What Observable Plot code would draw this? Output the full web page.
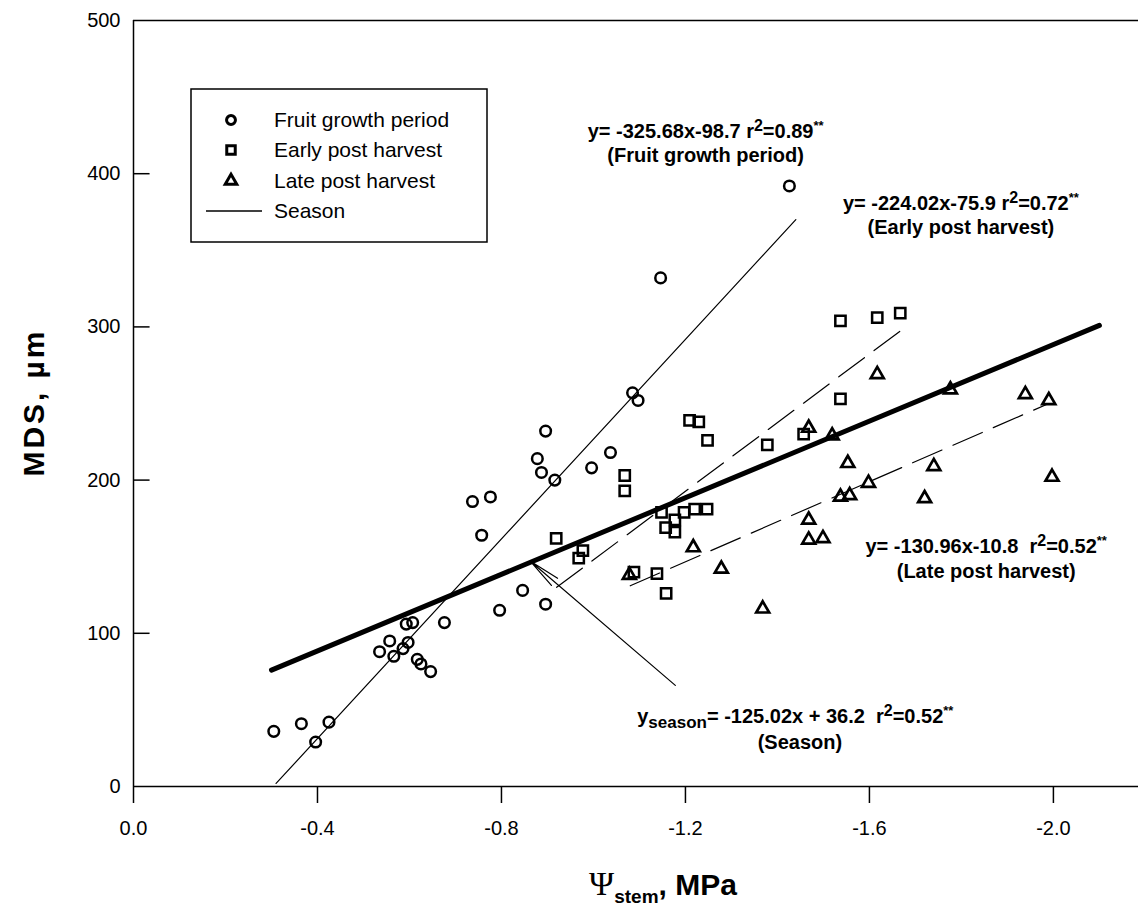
<!DOCTYPE html>
<html><head><meta charset="utf-8">
<script src="https://cdn.jsdelivr.net/npm/d3@7"></script>
<script src="https://cdn.jsdelivr.net/npm/@observablehq/plot@0.6"></script>
<style>
body{margin:0;background:#fff;}
#chart svg{display:block;}
</style></head><body><div id="chart"></div>
<script>
// ---- data ----
const fruitX = [-0.305,-0.365,-0.396,-0.425,-0.535,-0.557,-0.566,-0.586,-0.597,-0.593,-0.607,-0.617,-0.625,-0.646,-0.676,-0.737,-0.757,-0.776,-0.796,-0.846,-0.878,-0.887,-0.896,-0.896,-0.916,-0.996,-1.037,-1.085,-1.097,-1.146,-1.426];
const fruitY = [36,41,29,42,88,95,85,90,94,106,107,83,80,75,107,186,164,189,115,128,214,205,232,119,200,208,218,257,252,332,392];
const earlyX = [-0.919,-0.968,-0.977,-1.068,-1.068,-1.088,-1.138,-1.158,-1.148,-1.157,-1.177,-1.177,-1.197,-1.220,-1.247,-1.209,-1.229,-1.248,-1.378,-1.457,-1.537,-1.537,-1.617,-1.667];
const earlyY = [162,149,154,203,193,140,139,126,179,169,174,166,179,181,181,239,238,226,223,230,253,304,306,309];
const lateX = [-1.078,-1.217,-1.278,-1.368,-1.468,-1.468,-1.468,-1.499,-1.519,-1.537,-1.557,-1.553,-1.598,-1.617,-1.720,-1.740,-1.776,-1.939,-1.990,-1.997];
const lateY = [138,156,142,116,234,174,161,162,229,189,190,211,198,269,188,209,259,256,252,202];

// regression lines (end points)
const seasonLineX = [-0.30,-2.10], seasonLineY = [76,301];
const fruitLineX = [-0.31,-1.44], fruitLineY = [2,370];
const earlyLineX = [-0.92,-1.67], earlyLineY = [130,298];
const lateLineX = [-1.08,-1.99], lateLineY = [131,250];
// annotation pointer (tail -> tip)
const pointerX = [-1.178,-0.863], pointerY = [66,147];

const xTicks = [0,-0.4,-0.8,-1.2,-1.6,-2.0];
const yTicks = [0,100,200,300,400,500];

const seriesNames = ["Fruit growth period","Early post harvest","Late post harvest","Season"];

// equation labels: centre x, centre y, text segments
const eqLabels = [
  {x:-1.245, y:423, parts:[["y= -325.68x-98.7 r"],["2","sup"],["=0.89"],["**","star"]]},
  {x:-1.245, y:407, parts:[["(Fruit growth period)"]]},
  {x:-1.80, y:376, parts:[["y= -224.02x-75.9 r"],["2","sup"],["=0.72"],["**","star"]]},
  {x:-1.80, y:360, parts:[["(Early post harvest)"]]},
  {x:-1.855, y:152, parts:[["y= -130.96x-10.8  r"],["2","sup"],["=0.52"],["**","star"]]},
  {x:-1.855, y:136, parts:[["(Late post harvest)"]]},
  {x:-1.44, y:41, parts:[["y"],["season","sub"],["= -125.02x + 36.2  r"],["2","sup"],["=0.52"],["**","star"]]},
  {x:-1.45, y:24, parts:[["(Season)"]]}
];

const pts = (xs, ys) => xs.map((x,i)=>({x, y: ys[i]}));
const fruit = pts(fruitX, fruitY), early = pts(earlyX, earlyY), late = pts(lateX, lateY);

const FONT = "'Liberation Sans', Arial, Helvetica, sans-serif";

const plot = Plot.plot({
  width: 1139, height: 921,
  marginLeft: 133, marginRight: 1, marginTop: 20, marginBottom: 135,
  x: {domain: [0, -2.185]},
  y: {domain: [0, 500]},
  style: {fontFamily: FONT, fontSize: "20px", background: "white", color: "black"},
  marks: [
    Plot.axisX(xTicks, {tickSize: 17, tickPadding: 17, tickFormat: d => d.toFixed(1), label: null, strokeWidth: 1.5}),
    Plot.axisY(yTicks, {tickSize: 0, tickPadding: 13, label: null}),
    Plot.ruleY(yTicks.slice(1, -1), {x1: 0, x2: -0.036, strokeWidth: 1.5}),
    Plot.ruleY([0], {strokeWidth: 1.5}),
    Plot.ruleY([500], {strokeWidth: 1.5}),
    Plot.ruleX([0], {y1: 0, y2: 500, strokeWidth: 1.5}),
    Plot.line(pts(fruitLineX, fruitLineY), {x: "x", y: "y", strokeWidth: 1.2}),
    Plot.line(pts(earlyLineX, earlyLineY), {x: "x", y: "y", strokeWidth: 1.2, strokeDasharray: "32,12"}),
    Plot.line(pts(lateLineX, lateLineY), {x: "x", y: "y", strokeWidth: 1.2, strokeDasharray: "32,12"}),
    Plot.line(pts(seasonLineX, seasonLineY), {x: "x", y: "y", strokeWidth: 5}),
    Plot.arrow([{x1: pointerX[0], y1: pointerY[0], x2: pointerX[1], y2: pointerY[1]}],
      {x1: "x1", y1: "y1", x2: "x2", y2: "y2", headLength: 40, headAngle: 17, strokeWidth: 1.2}),
    Plot.dot(fruit, {x: "x", y: "y", symbol: "circle", r: 5.3, stroke: "black", strokeWidth: 2.5, fill: "none"}),
    Plot.dot(early, {x: "x", y: "y", symbol: "square", r: 5.8, stroke: "black", strokeWidth: 2.5, fill: "none"}),
    Plot.dot(late, {x: "x", y: "y", symbol: "triangle", r: 4.8, stroke: "black", strokeWidth: 2.7, fill: "none"})
  ]
});

const svg = d3.select(plot);
const sx = plot.scale("x"), sy = plot.scale("y");

// equation annotations
const BASE = 20;
const ann = svg.append("g").attr("font-family", FONT).attr("font-weight", "bold").attr("font-size", BASE).attr("text-anchor", "middle");
eqLabels.forEach(l => {
  const t = ann.append("text").attr("x", sx.apply(l.x)).attr("y", sy.apply(l.y)).attr("dy", "0.35em");
  let shift = 0;
  l.parts.forEach(([s, kind]) => {
    const ts = t.append("tspan").text(s);
    let target = 0, size = BASE;
    if (kind === "sup") { target = -7; size = 16; }
    else if (kind === "star") { target = -8; size = 13; }
    else if (kind === "sub") { target = 5; size = 17; }
    ts.attr("font-size", size).attr("dy", target - shift);
    shift = target;
  });
});

// legend
const lg = svg.append("g").attr("font-family", FONT).attr("font-size", 21).attr("text-anchor", "start");
lg.append("rect").attr("x", 191).attr("y", 89).attr("width", 296).attr("height", 153)
  .attr("fill", "white").attr("stroke", "black").attr("stroke-width", 1.5);
const rows = [120, 150, 181, 211];
const sym = [d3.symbolCircle, d3.symbolSquare, d3.symbolTriangle];
const symSize = [62, 72, 58];
seriesNames.forEach((name, i) => {
  if (i < 3) {
    lg.append("path").attr("d", d3.symbol(sym[i], symSize[i])()).attr("transform", `translate(231,${rows[i]})`)
      .attr("fill", "none").attr("stroke", "black").attr("stroke-width", 3);
  } else {
    lg.append("line").attr("x1", 206).attr("x2", 262).attr("y1", rows[i]).attr("y2", rows[i]).attr("stroke", "black").attr("stroke-width", 1.3);
  }
  lg.append("text").attr("x", 274).attr("y", rows[i]).attr("dy", "0.35em").text(name);
});

// axis titles
svg.append("text").attr("transform", "translate(44,404) rotate(-90)").attr("text-anchor", "middle")
  .attr("font-family", FONT).attr("font-weight", "bold").attr("font-size", 30)
  .attr("textLength", 145).attr("lengthAdjust", "spacing").text("MDS, µm");
const xt = svg.append("text").attr("x", 663).attr("y", 895).attr("text-anchor", "middle")
  .attr("font-family", FONT).attr("font-weight", "bold").attr("font-size", 30);
xt.append("tspan").attr("font-family", "'Liberation Serif', 'DejaVu Serif', serif").attr("font-weight", "normal").attr("font-size", 34).text("Ψ");
xt.append("tspan").attr("font-size", 19).attr("dy", 8).text("stem");
xt.append("tspan").attr("dy", -8).text(", MPa");

document.getElementById("chart").appendChild(plot);
</script></body></html>
